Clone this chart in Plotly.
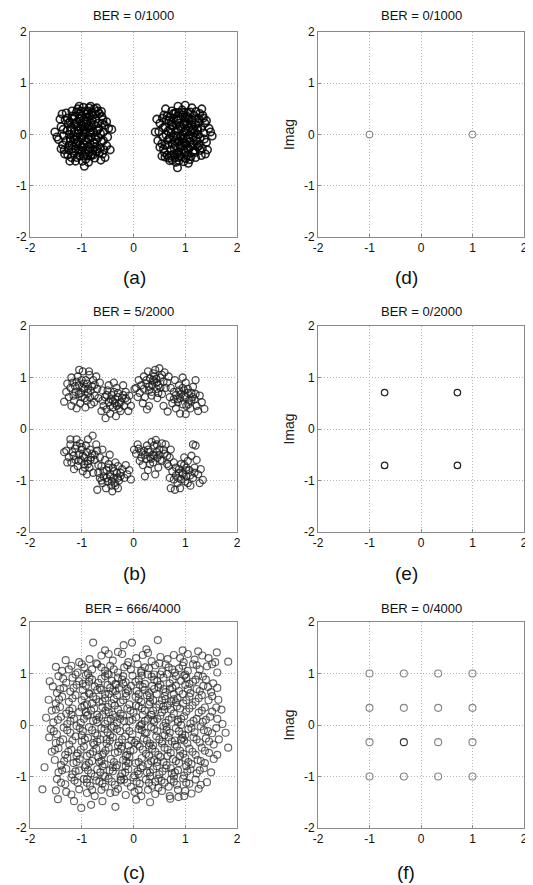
import plotly.graph_objects as go
from plotly.subplots import make_subplots

# ---------------- data ----------------
titles = ["BER = 0/1000", "BER = 0/1000", "BER = 5/2000", "BER = 0/2000", "BER = 666/4000", "BER = 0/4000"]
letters = ["(a)", "(d)", "(b)", "(e)", "(c)", "(f)"]
tick_vals = [-2, -1, 0, 1, 2]
tick_text = ["-2", "-1", "0", "1", "2"]

# (a) BPSK received, two clusters
a_left = [(-0.95,0.02),(-1.02,0.11),(-0.88,-0.08),(-1.10,-0.05),(-0.81,0.14),(-0.97,-0.18),(-1.15,0.20),(-0.74,-0.02),
 (-1.05,0.31),(-0.90,0.27),(-1.22,-0.12),(-0.85,-0.25),(-1.00,-0.31),(-0.68,0.22),(-1.28,0.08),(-0.79,0.38),(-1.12,-0.28),
 (-0.62,-0.14),(-0.93,0.45),(-1.35,-0.02),(-0.71,-0.33),(-1.18,0.36),(-1.04,-0.42),(-0.58,0.05),(-1.40,0.15),(-0.86,0.52),
 (-0.66,0.41),(-1.25,-0.30),(-0.92,-0.48),(-0.52,-0.22),(-1.45,-0.10),(-1.30,0.42),(-0.75,-0.46),(-1.08,0.50),(-0.48,0.12),
 (-1.52,0.05),(-0.60,-0.38),(-1.20,-0.45),(-0.95,-0.62),(-0.42,0.10),(-0.55,-0.45),(-0.83,0.03),(-1.06,-0.14),(-0.99,0.17),
 (-0.77,-0.15),(-1.14,0.06),(-0.89,0.34),(-1.01,-0.24),(-0.70,0.08),(-1.19,-0.20),(-0.94,-0.37),(-0.82,0.23),(-1.09,0.24),
 (-0.64,-0.26),(-1.32,0.28),(-0.87,-0.54),(-1.24,0.00),(-0.73,0.30),(-1.03,0.40),(-0.59,0.29),(-1.37,-0.20),(-0.80,-0.38),
 (-1.16,-0.36),(-0.50,-0.05),(-0.97,0.53),(-1.42,0.30),(-0.63,-0.50),(-1.27,-0.40),(-0.45,-0.30),(-1.10,0.44),(-0.92,-0.11),
 (-0.84,-0.19),(-1.07,0.02),(-0.96,0.09),(-0.78,0.07),(-1.21,0.14),(-0.68,-0.06),(-1.13,-0.10),(-0.86,0.16),(-0.99,-0.05),
 (-1.05,-0.35),(-0.74,-0.24),(-0.91,0.20),(-1.26,0.22),(-0.56,0.18),(-0.88,-0.30),(-1.17,0.30),(-0.69,0.46),(-1.34,-0.30),
 (-0.61,0.35),(-1.00,0.36),(-0.57,-0.30),(-1.48,-0.05),(-0.76,0.50),(-1.12,-0.52),(-0.83,-0.42),(-1.38,0.40),(-0.52,0.25),
 (-0.99,-0.52),(-1.23,-0.52)]
a_left_core = [(-0.93,0.05),(-1.00,-0.08),(-0.87,0.12),(-1.08,0.15),(-0.82,-0.06),(-1.04,0.26),(-0.90,-0.15),(-1.16,-0.02),
 (-0.76,0.19),(-0.96,0.30),(-1.11,-0.18),(-0.85,0.36),(-0.72,-0.10),(-1.20,0.08),(-0.98,-0.26),(-0.80,0.29),(-1.03,-0.20),
 (-0.91,0.40),(-1.23,0.25),(-0.67,0.12),(-1.14,0.35),(-0.86,-0.35),(-0.70,-0.28),(-1.30,-0.12),(-0.94,0.15),(-1.06,0.08),
 (-0.79,-0.30),(-1.18,-0.28),(-0.64,0.02),(-1.02,0.46),(-0.88,0.46),(-1.28,0.32),(-0.60,0.22),(-0.97,-0.42),(-1.09,-0.45),
 (-0.73,0.40),(-1.36,0.10),(-0.66,-0.35),(-1.25,-0.22),(-0.84,0.05),(-0.99,-0.02),(-1.12,0.22),(-0.75,-0.18),(-0.90,0.24),
 (-1.07,-0.30),(-0.81,0.44),(-1.33,-0.38),(-0.58,-0.12),(-1.40,-0.28),(-1.19,0.46),(-0.71,0.52),(-1.15,-0.10),(-0.95,-0.20),
 (-1.01,0.20),(-0.78,-0.40),(-0.62,0.45),(-1.22,-0.08),(-0.89,-0.42),(-1.05,0.55),(-0.83,0.55)]
a_right = [(0.95,0.00),(1.03,-0.09),(0.86,0.10),(1.12,0.07),(0.80,-0.12),(0.98,0.19),(1.17,-0.18),(0.73,0.03),(1.06,-0.30),
 (0.90,-0.26),(1.24,0.12),(0.84,0.27),(1.00,0.32),(0.66,-0.20),(1.29,-0.06),(0.78,-0.38),(1.13,0.28),(0.61,0.15),(0.93,-0.44),
 (1.36,0.03),(0.70,0.34),(1.19,-0.35),(1.05,0.43),(0.57,-0.05),(1.41,-0.15),(0.88,-0.51),(0.65,-0.40),(1.26,0.31),(0.94,0.48),
 (0.51,0.22),(1.46,0.12),(1.31,-0.41),(0.74,0.46),(1.09,-0.49),(0.47,-0.12),(1.52,-0.03),(0.59,0.38),(1.21,0.45),(0.85,-0.65),
 (0.42,0.05),(0.55,-0.42),(0.82,-0.02),(1.07,0.13),(0.99,-0.16),(0.76,0.16),(1.15,-0.05),(0.88,-0.34),(1.02,0.24),(0.69,-0.08),
 (1.20,0.20),(0.95,0.38),(0.81,-0.22),(1.10,-0.24),(0.63,0.28),(1.33,-0.27),(0.86,0.55),(1.25,0.00),(0.72,-0.30),(1.04,-0.40),
 (0.58,-0.28),(1.38,0.22),(0.79,0.40),(1.17,0.37),(0.49,0.06),(0.97,-0.53),(1.43,-0.30),(0.62,0.50),(1.28,0.41),(0.45,0.30),
 (1.11,-0.43),(0.92,0.11),(0.83,0.19),(1.08,-0.01),(0.96,-0.08),(0.77,-0.06),(1.22,-0.13),(0.67,0.07),(1.14,0.10),(0.85,-0.15),
 (0.99,0.05),(1.04,0.35),(0.73,0.24),(0.91,-0.20),(1.27,-0.22),(0.55,-0.18),(0.87,0.30),(1.18,-0.31),(0.68,-0.46),(1.35,0.32),
 (0.60,-0.35),(1.00,-0.36),(0.56,0.32),(1.49,0.05),(0.75,-0.50),(1.13,0.52),(0.82,0.43),(1.39,-0.38),(0.51,-0.25),(1.00,0.57),
 (1.32,0.50)]
a_right_core = [(0.92,-0.04),(1.01,0.09),(0.88,-0.13),(1.09,-0.14),(0.83,0.07),(1.05,-0.27),(0.89,0.16),(1.17,0.03),
 (0.75,-0.18),(0.97,-0.31),(1.12,0.19),(0.84,-0.37),(0.71,0.11),(1.21,-0.07),(0.99,0.27),(0.79,-0.28),(1.04,0.21),
 (0.90,-0.41),(1.24,-0.24),(0.66,-0.11),(1.15,-0.34),(0.87,0.36),(0.69,0.27),(1.31,0.13),(0.95,-0.16),(1.07,-0.07),
 (0.78,0.31),(1.19,0.29),(0.63,-0.01),(1.01,-0.47),(0.87,-0.45),(1.29,-0.31),(0.61,-0.21),(0.98,0.43),(1.10,0.44),
 (0.72,-0.41),(1.37,-0.09),(0.65,0.36),(1.26,0.23),(0.85,-0.04),(1.00,0.03),(1.13,-0.21),(0.74,0.19),(0.91,-0.23),
 (1.08,0.31),(0.80,-0.45),(1.34,0.37),(0.57,0.13),(1.41,0.27),(1.20,-0.45),(0.70,-0.51),(1.16,0.11),(0.96,0.21),
 (1.02,-0.19),(0.77,0.41),(0.61,-0.44),(1.23,0.09),(0.88,0.43),(1.06,-0.56),(0.82,-0.54)]

# (b) QPSK received, four wavy clusters
b_tl = [(-0.95,0.78),(-1.05,0.85),(-0.88,0.70),(-1.12,0.72),(-0.80,0.83),(-1.00,0.62),(-1.18,0.90),(-0.92,0.95),(-0.75,0.65),
 (-1.08,1.02),(-0.85,1.05),(-1.22,0.80),(-1.25,0.62),(-0.70,0.78),(-1.03,0.50),(-0.90,0.55),(-1.15,0.55),(-0.78,0.95),
 (-1.30,0.72),(-0.98,1.12),(-1.05,1.15),(-0.86,1.12),(-1.20,1.00),(-1.34,0.53),(-1.10,0.40),(-0.82,0.48),(-0.65,0.90),
 (-0.72,1.02),(-1.28,0.88),(-0.96,0.88),(-1.02,0.70),(-0.84,0.62),(-1.13,0.83),(-0.68,0.60),(-0.93,0.42),(-1.20,0.45),
 (-0.60,0.75),(-0.76,0.52),
 (-0.35,0.58),(-0.42,0.66),(-0.28,0.50),(-0.48,0.52),(-0.30,0.70),(-0.22,0.60),(-0.40,0.42),(-0.55,0.62),(-0.18,0.45),
 (-0.33,0.80),(-0.50,0.75),(-0.25,0.35),(-0.45,0.30),(-0.12,0.55),(-0.38,0.90),(-0.58,0.45),(-0.15,0.72),(-0.54,0.21),
 (-0.34,0.25),(-0.05,0.45),(-0.08,0.65),(-0.62,0.35),(-0.20,0.85),(-0.48,0.85),(-0.28,0.40),(-0.36,0.50),(-0.52,0.38),
 (-0.10,0.35),(-0.44,0.58),
 (-0.98,0.80),(-1.06,0.68),(-0.90,0.88),(-0.83,0.74),(-1.16,0.65),(-0.94,0.60),(-1.10,0.92),(-0.75,0.86),(-1.00,0.95),
 (-0.88,0.78),(-0.40,0.55),(-0.30,0.62),(-0.45,0.45),(-0.25,0.52),(-0.38,0.72),(-0.52,0.66),(-0.20,0.66),(-0.32,0.45),
 (-0.60,0.55),(-0.15,0.60)]
b_tr = [(0.40,0.92),(0.32,0.98),(0.48,0.85),(0.25,0.88),(0.52,1.00),(0.38,1.08),(0.45,0.78),(0.30,0.75),(0.20,1.02),
 (0.58,0.92),(0.15,0.85),(0.42,1.15),(0.50,1.18),(0.28,1.12),(0.62,0.80),(0.10,0.95),(0.35,0.65),(0.22,0.62),(0.05,0.80),
 (0.68,1.02),(0.55,0.68),(0.18,0.50),(0.30,0.45),(0.12,0.70),(0.60,1.10),(0.02,0.78),(0.26,0.38),(0.44,0.98),(0.36,0.85),
 (0.65,0.90),(0.08,0.62),(0.46,0.60),
 (1.00,0.62),(0.92,0.68),(1.08,0.55),(0.85,0.58),(1.12,0.70),(0.95,0.48),(1.05,0.78),(0.78,0.72),(1.18,0.58),(0.88,0.85),
 (1.22,0.45),(0.75,0.50),(1.01,0.90),(1.15,0.82),(0.70,0.62),(1.28,0.65),(0.82,0.40),(1.10,0.40),(0.95,1.00),(1.25,0.35),
 (1.37,0.39),(0.66,0.34),(1.01,0.29),(0.90,0.30),(1.32,0.52),(0.72,0.80),(1.20,0.95),(0.80,0.95),(0.98,0.75),(1.06,0.48),
 (0.86,0.52),(0.58,0.45),(1.14,0.62),
 (0.38,0.95),(0.45,0.90),(0.30,0.82),(0.52,0.80),(0.25,0.95),(0.40,1.02),(0.55,1.05),(0.20,0.78),(0.35,0.72),(0.48,0.70),
 (0.98,0.65),(1.05,0.70),(0.90,0.60),(1.12,0.55),(0.95,0.80),(0.82,0.66),(1.20,0.68),(1.02,0.45),(0.88,0.75),(0.78,0.58)]
b_bl = [(-0.95,-0.55),(-1.05,-0.50),(-0.88,-0.62),(-1.12,-0.60),(-0.80,-0.48),(-1.00,-0.40),(-1.18,-0.45),(-0.92,-0.32),
 (-0.75,-0.60),(-1.08,-0.72),(-0.85,-0.75),(-1.22,-0.30),(-1.25,-0.55),(-0.70,-0.42),(-1.03,-0.28),(-0.79,-0.13),
 (-0.88,-0.20),(-1.15,-0.78),(-1.30,-0.42),(-0.98,-0.82),(-1.34,-0.45),(-0.65,-0.55),(-0.72,-0.30),(-1.20,-0.65),
 (-0.95,-0.68),(-1.02,-0.60),(-0.84,-0.40),(-1.13,-0.38),(-0.68,-0.70),(-1.10,-0.20),(-0.90,-0.88),(-1.28,-0.65),
 (-0.60,-0.40),(-0.78,-0.85),(-1.22,-0.20),(-0.82,-0.55),
 (-0.45,-0.88),(-0.52,-0.80),(-0.38,-0.95),(-0.58,-0.92),(-0.40,-0.75),(-0.32,-0.85),(-0.50,-1.02),(-0.62,-0.72),
 (-0.28,-1.00),(-0.43,-1.10),(-0.60,-1.05),(-0.35,-0.65),(-0.55,-0.60),(-0.22,-0.78),(-0.41,-1.21),(-0.70,-1.18),
 (-0.25,-0.92),(-0.68,-0.85),(-0.18,-0.95),(-0.30,-1.15),(-0.12,-0.88),(-0.05,-0.98),(-0.15,-0.70),(-0.48,-0.68),
 (-0.65,-0.95),(-0.36,-1.05),(-0.46,-0.50),(-0.08,-0.80),(-0.53,-1.15),(-0.30,-0.72),
 (-0.98,-0.52),(-1.06,-0.62),(-0.90,-0.45),(-0.83,-0.60),(-1.16,-0.52),(-0.94,-0.75),(-1.10,-0.32),(-0.75,-0.50),
 (-1.00,-0.35),(-0.88,-0.68),(-0.45,-0.92),(-0.38,-0.82),(-0.52,-0.95),(-0.30,-0.95),(-0.42,-1.02),(-0.58,-0.82),
 (-0.25,-0.85),(-0.48,-0.75),(-0.62,-1.00),(-0.35,-1.10)]
b_br = [(0.38,-0.50),(0.30,-0.45),(0.46,-0.56),(0.25,-0.58),(0.50,-0.40),(0.40,-0.32),(0.20,-0.42),(0.55,-0.62),(0.32,-0.68),
 (0.15,-0.55),(0.60,-0.48),(0.43,-0.21),(0.35,-0.25),(0.10,-0.38),(0.62,-0.30),(0.48,-0.75),(0.28,-0.80),(0.05,-0.48),
 (0.70,-0.55),(0.18,-0.70),(0.55,-0.28),(0.01,-0.40),(0.12,-0.62),(0.42,-0.88),(0.65,-0.68),(0.26,-0.32),(0.08,-0.30),
 (0.72,-0.40),(0.34,-0.58),(0.50,-0.50),(0.22,-0.92),
 (0.95,-0.85),(0.88,-0.78),(1.02,-0.92),(0.82,-0.90),(1.08,-0.80),(0.92,-0.68),(1.00,-1.02),(0.75,-0.82),(1.15,-0.95),
 (0.85,-1.05),(1.18,-0.75),(0.78,-0.65),(1.05,-0.62),(0.90,-1.15),(1.25,-0.88),(0.70,-0.95),(1.10,-1.10),(0.68,-0.72),
 (1.30,-0.78),(1.34,-0.99),(0.80,-1.18),(0.72,-1.15),(1.22,-0.60),(0.98,-0.55),(1.28,-1.05),(0.65,-0.52),(1.12,-0.52),
 (0.86,-0.95),(1.02,-0.75),(1.20,-0.32),(1.15,-0.30),
 (0.40,-0.52),(0.32,-0.55),(0.45,-0.45),(0.28,-0.40),(0.52,-0.60),(0.38,-0.65),(0.22,-0.50),(0.58,-0.40),(0.45,-0.30),
 (0.15,-0.45),(0.95,-0.88),(0.88,-0.85),(1.02,-0.80),(0.92,-0.98),(1.10,-0.90),(0.82,-0.75),(1.05,-1.05),(0.78,-0.98),
 (1.18,-0.85),(0.98,-0.70)]

# (c) 16-QAM received, heavy noise
c_pts = [
 (-0.78,1.60),(-0.03,1.60),(-0.19,1.55),(0.47,1.65),(-0.55,1.45),(0.25,1.47),(1.61,1.41),(0.95,1.45),(-0.30,1.42),(1.25,1.43),
 (-1.31,1.26),(-1.05,1.22),(-0.85,1.28),(-0.62,1.35),(-0.40,1.25),(-0.22,1.38),(-0.10,1.22),(0.05,1.30),(0.18,1.36),(0.35,1.24),
 (0.52,1.32),(0.66,1.28),(0.78,1.36),(0.90,1.30),(1.05,1.38),(1.18,1.27),(1.33,1.35),(1.45,1.30),(1.83,1.23),(1.58,1.22),
 (-0.72,1.20),(0.28,1.40),(0.97,1.22),(-0.48,1.38),
 (-1.50,1.13),(-1.38,1.05),(-1.20,1.15),(-1.08,1.02),(-0.95,1.12),(-0.80,1.08),(-0.70,1.18),(-0.55,1.05),(-0.45,1.15),
 (-0.30,1.02),(-0.18,1.12),(-0.05,1.08),(0.08,1.18),(0.15,1.02),(0.30,1.10),(0.42,1.16),(0.55,1.04),(0.68,1.12),(0.80,1.02),
 (0.95,1.15),(1.05,1.05),(1.15,1.18),(1.28,1.08),(1.42,1.14),(1.62,1.02),(-0.88,1.00),(0.50,1.20),(1.00,0.98),
 (-1.62,0.85),(-1.45,0.95),(-1.30,0.82),(-1.18,0.92),(-1.05,0.85),(-0.92,0.97),(-0.80,0.88),(-0.68,0.82),(-0.55,0.95),
 (-0.42,0.86),(-0.30,0.92),(-0.15,0.83),(-0.02,0.96),(0.10,0.88),(0.22,0.80),(0.35,0.94),(0.46,0.85),(0.58,0.92),(0.70,0.81),
 (0.82,0.95),(0.92,0.86),(1.02,0.92),(1.15,0.84),(1.25,0.96),(1.40,0.88),(1.54,0.81),(-0.35,0.80),(0.65,0.99),(-0.98,0.80),
 (1.08,0.80),(0.28,0.98),
 (-1.56,0.75),(-1.48,0.62),(-1.35,0.72),(-1.22,0.65),(-1.10,0.78),(-0.98,0.68),(-0.86,0.62),(-0.75,0.75),(-0.62,0.68),
 (-0.50,0.78),(-0.40,0.65),(-0.28,0.72),(-0.15,0.62),(-0.05,0.76),(0.06,0.66),(0.18,0.74),(0.30,0.62),(0.40,0.70),(0.52,0.78),
 (0.62,0.64),(0.75,0.72),(0.88,0.66),(1.00,0.78),(1.10,0.62),(1.22,0.70),(1.35,0.76),(1.50,0.64),(-0.55,0.60),(0.45,0.60),
 (-0.20,0.80),(0.95,0.60),(1.62,0.72),
 (-1.64,0.49),(-1.50,0.42),(-1.38,0.55),(-1.25,0.45),(-1.12,0.58),(-1.00,0.48),(-0.90,0.40),(-0.78,0.55),(-0.66,0.45),
 (-0.55,0.52),(-0.42,0.42),(-0.32,0.58),(-0.20,0.48),(-0.08,0.40),(0.04,0.55),(0.15,0.45),(0.26,0.58),(0.38,0.48),(0.50,0.40),
 (0.60,0.56),(0.72,0.46),(0.85,0.52),(0.96,0.42),(1.08,0.55),(1.20,0.45),(1.32,0.58),(1.45,0.48),(1.64,0.49),(-0.85,0.60),
 (0.30,0.40),(-0.48,0.60),(0.78,0.60),
 (-1.58,0.28),(-1.42,0.35),(-1.30,0.22),(-1.18,0.32),(-1.05,0.25),(-0.95,0.38),(-0.82,0.28),(-0.70,0.20),(-0.60,0.35),
 (-0.48,0.25),(-0.36,0.38),(-0.25,0.22),(-0.12,0.32),(0.00,0.24),(0.10,0.36),(0.22,0.28),(0.34,0.20),(0.44,0.34),(0.55,0.25),
 (0.66,0.38),(0.78,0.22),(0.90,0.32),(1.02,0.26),(1.14,0.38),(1.26,0.24),(1.38,0.34),(1.52,0.26),(1.70,0.30),(-0.88,0.20),
 (0.18,0.20),(-0.40,0.20),(0.72,0.30),
 (-1.69,0.14),(-1.55,0.05),(-1.40,0.16),(-1.28,0.02),(-1.15,0.12),(-1.02,0.04),(-0.90,0.18),(-0.78,0.08),(-0.66,0.15),
 (-0.55,0.02),(-0.44,0.12),(-0.32,0.05),(-0.20,0.18),(-0.08,0.08),(0.05,0.15),(0.16,0.02),(0.28,0.12),(0.40,0.06),(0.52,0.18),
 (0.62,0.04),(0.74,0.14),(0.86,0.06),(0.98,0.17),(1.10,0.03),(1.22,0.12),(1.34,0.06),(1.48,0.16),(1.72,0.02),(-0.60,0.20),
 (0.35,0.20),(-1.20,0.20),(0.92,0.00),
 (-1.60,-0.08),(-1.48,-0.18),(-1.35,-0.05),(-1.22,-0.15),(-1.10,-0.02),(-0.98,-0.12),(-0.86,-0.04),(-0.74,-0.16),(-0.62,-0.06),
 (-0.50,-0.14),(-0.38,-0.02),(-0.26,-0.12),(-0.14,-0.05),(-0.02,-0.18),(0.10,-0.08),(0.22,-0.16),(0.34,-0.04),(0.46,-0.12),
 (0.58,-0.02),(0.70,-0.15),(0.82,-0.06),(0.94,-0.18),(1.06,-0.08),(1.18,-0.14),(1.30,-0.03),(1.44,-0.12),(1.60,-0.06),
 (1.78,-0.15),(-0.45,-0.20),(0.60,-0.20),(-1.00,-0.20),(0.15,0.00),
 (-1.63,-0.24),(-1.50,-0.35),(-1.36,-0.28),(-1.24,-0.38),(-1.12,-0.22),(-1.00,-0.32),(-0.88,-0.25),(-0.76,-0.38),(-0.64,-0.28),
 (-0.52,-0.36),(-0.40,-0.24),(-0.28,-0.34),(-0.16,-0.22),(-0.04,-0.30),(0.08,-0.38),(0.20,-0.26),(0.32,-0.36),(0.44,-0.22),
 (0.56,-0.32),(0.68,-0.24),(0.80,-0.38),(0.92,-0.28),(1.04,-0.36),(1.16,-0.24),(1.28,-0.34),(1.40,-0.26),(1.55,-0.38),
 (1.65,-0.28),(-0.70,-0.20),(0.38,-0.40),(-0.10,-0.40),(1.00,-0.20),
 (-1.58,-0.52),(-1.45,-0.45),(-1.32,-0.58),(-1.20,-0.48),(-1.08,-0.55),(-0.96,-0.42),(-0.84,-0.56),(-0.72,-0.46),(-0.60,-0.58),
 (-0.48,-0.44),(-0.36,-0.54),(-0.24,-0.46),(-0.12,-0.58),(0.00,-0.48),(0.12,-0.42),(0.24,-0.56),(0.36,-0.46),(0.48,-0.58),
 (0.60,-0.44),(0.72,-0.54),(0.84,-0.42),(0.96,-0.56),(1.08,-0.46),(1.20,-0.58),(1.32,-0.44),(1.46,-0.54),(1.83,-0.44),
 (1.62,-0.58),(-0.90,-0.60),(0.30,-0.60),(-0.30,-0.40),(0.66,-0.60),
 (-1.52,-0.68),(-1.40,-0.78),(-1.28,-0.64),(-1.16,-0.74),(-1.04,-0.66),(-0.92,-0.78),(-0.80,-0.70),(-0.68,-0.62),(-0.56,-0.76),
 (-0.44,-0.66),(-0.32,-0.78),(-0.20,-0.68),(-0.08,-0.62),(0.04,-0.74),(0.16,-0.64),(0.28,-0.76),(0.40,-0.68),(0.52,-0.62),
 (0.64,-0.78),(0.76,-0.66),(0.88,-0.74),(1.00,-0.64),(1.12,-0.76),(1.24,-0.68),(1.38,-0.74),(1.55,-0.66),(-0.60,-0.80),
 (0.45,-0.80),(-1.10,-0.60),(0.90,-0.60),(-0.15,-0.80),
 (-1.72,-0.82),(-1.45,-0.92),(-1.30,-0.85),(-1.18,-0.96),(-1.05,-0.88),(-0.94,-0.82),(-0.82,-0.94),(-0.70,-0.86),(-0.58,-0.98),
 (-0.46,-0.88),(-0.34,-0.82),(-0.22,-0.94),(-0.10,-0.86),(0.02,-0.98),(0.14,-0.84),(0.26,-0.92),(0.38,-0.86),(0.50,-0.96),
 (0.62,-0.84),(0.74,-0.94),(0.86,-0.88),(0.98,-0.98),(1.10,-0.86),(1.22,-0.94),(1.36,-0.84),(1.50,-0.92),(-0.75,-1.00),
 (0.32,-1.00),(1.02,-0.80),(-0.25,-1.00),
 (-1.48,-1.05),(-1.32,-1.15),(-1.20,-1.02),(-1.08,-1.12),(-0.96,-1.05),(-0.84,-1.18),(-0.72,-1.08),(-0.60,-1.14),(-0.48,-1.04),
 (-0.36,-1.16),(-0.24,-1.06),(-0.12,-1.12),(0.00,-1.02),(0.12,-1.14),(0.24,-1.06),(0.36,-1.18),(0.48,-1.04),(0.60,-1.12),
 (0.72,-1.06),(0.84,-1.16),(0.96,-1.04),(1.08,-1.14),(1.20,-1.06),(1.42,-1.11),(-0.55,-1.20),(0.68,-1.20),(-0.05,-1.20),
 (-1.76,-1.25),(-1.50,-1.27),(-1.20,-1.35),(-1.05,-1.25),(-0.90,-1.32),(-0.75,-1.38),(-0.62,-1.26),(-0.45,-1.32),(-0.30,-1.24),
 (-0.15,-1.36),(0.02,-1.30),(0.15,-1.38),(0.28,-1.26),(0.42,-1.34),(0.55,-1.28),(0.86,-1.26),(1.12,-1.33),(1.26,-1.24),
 (0.98,-1.38),(0.70,-1.38),
 (-1.46,-1.44),(-1.01,-1.61),(-0.35,-1.59),(0.71,-1.43),(0.87,-1.40),(-1.15,-1.48),(-0.60,-1.48),(0.05,-1.45),(0.32,-1.50),
 (-0.82,-1.55)]
c_core = [(-0.65,0.72),(-0.35,0.66),(-0.12,0.70),(0.22,0.68),(0.48,0.74),(0.70,0.70),(-0.80,0.42),(-0.50,0.35),(-0.25,0.44),
 (0.05,0.38),(0.32,0.45),(0.58,0.36),(0.82,0.44),(-0.70,0.05),(-0.42,-0.05),(-0.18,0.08),(0.12,-0.02),(0.38,0.10),(0.64,-0.04),
 (0.85,0.10),(-0.78,-0.35),(-0.52,-0.28),(-0.22,-0.42),(0.05,-0.30),(0.30,-0.40),(0.55,-0.36),(0.80,-0.30),(-0.66,-0.72),
 (-0.40,-0.82),(-0.10,-0.74),(0.18,-0.80),(0.46,-0.72),(0.72,-0.84),(-0.85,0.92),(-0.50,1.00),(-0.20,0.95),(0.15,1.05),
 (0.40,0.98),(0.75,1.08),(-0.90,-1.05),(-0.55,-1.00),(-0.25,-1.08),(0.10,-0.95),(0.42,-1.10),(0.78,-1.00),(-0.35,0.15),
 (0.25,-0.15),(-0.58,-0.55),(0.62,0.50),(-0.15,-0.60),(0.10,0.60),(-0.92,0.25),(0.95,-0.25)]
c_more = [(-1.25,1.08),(-1.00,1.18),(-0.62,1.12),(-0.38,1.08),(-0.12,1.16),(0.22,1.12),(0.62,1.18),(0.88,1.10),(1.22,1.16),
 (1.52,1.18),(-1.36,0.90),(-1.12,0.98),(-0.86,0.84),(-0.62,0.90),(-0.48,0.98),(-0.22,0.88),(0.04,0.84),(0.16,0.96),(0.40,0.88),
 (0.52,0.98),(0.76,0.88),(0.98,0.96),(1.20,0.88),(1.34,0.94),(-1.42,0.70),(-1.16,0.72),(-0.92,0.76),(-0.70,0.68),(-0.45,0.72),
 (-0.34,0.78),(-0.10,0.66),(0.12,0.78),(0.36,0.76),(0.58,0.70),(0.82,0.76),(1.05,0.70),(1.28,0.66),(1.44,0.74),(-1.44,0.50),
 (-1.18,0.52),(-0.95,0.56),(-0.72,0.50),(-0.60,0.46),(-0.38,0.50),(-0.14,0.56),(0.10,0.50),(0.32,0.54),(0.55,0.48),(0.78,0.50),
 (1.02,0.48),(1.26,0.52),(1.52,0.56),(-1.50,0.30),(-1.24,0.28),(-1.00,0.34),(-0.76,0.32),(-0.54,0.28),(-0.30,0.30),(-0.06,0.28),
 (0.16,0.32),(0.38,0.28),(0.60,0.30),(0.84,0.36),(1.08,0.32),(1.32,0.28),(1.60,0.34),(-1.46,0.10),(-1.22,0.08),(-0.96,0.12),
 (-0.72,0.10),(-0.50,0.08),(-0.26,0.12),(-0.02,0.10),(0.22,0.08),(0.46,0.12),(0.68,0.10),(0.92,0.12),(1.16,0.08),(1.40,0.10),
 (1.62,0.12),(-1.54,-0.12),(-1.28,-0.10),(-1.04,-0.06),(-0.80,-0.10),(-0.56,-0.08),(-0.32,-0.08),(-0.08,-0.12),(0.16,-0.10),
 (0.40,-0.08),(0.64,-0.10),(0.88,-0.12),(1.12,-0.06),(1.36,-0.10),(1.52,-0.16),(-1.42,-0.32),(-1.18,-0.30),(-0.94,-0.28),
 (-0.70,-0.32),(-0.46,-0.30),(-0.22,-0.28),(0.02,-0.34),(0.26,-0.30),(0.50,-0.28),(0.74,-0.32),(0.98,-0.30),(1.22,-0.28),
 (1.46,-0.32),(-1.52,-0.48),(-1.26,-0.52),(-1.02,-0.48),(-0.78,-0.52),(-0.54,-0.50),(-0.30,-0.52),(-0.06,-0.50),(0.18,-0.48),
 (0.42,-0.52),(0.66,-0.48),(0.90,-0.50),(1.14,-0.52),(1.38,-0.50),(-1.34,-0.70),(-1.10,-0.72),(-0.86,-0.74),(-0.62,-0.70),
 (-0.38,-0.72),(-0.14,-0.70),(0.10,-0.72),(0.34,-0.70),(0.58,-0.72),(0.82,-0.70),(1.06,-0.72),(1.30,-0.70),(-1.38,-0.88),
 (-1.12,-0.90),(-0.88,-0.88),(-0.64,-0.92),(-0.40,-0.90),(-0.16,-0.92),(0.08,-0.90),(0.32,-0.92),(0.56,-0.90),(0.80,-0.92),
 (1.04,-0.90),(1.28,-0.88),(-1.40,-1.12),(-1.14,-1.08),(-0.90,-1.12),(-0.66,-1.10),(-0.42,-1.10),(-0.18,-1.06),(0.06,-1.10),
 (0.30,-1.12),(0.54,-1.08),(0.78,-1.10),(1.02,-1.12),(1.30,-1.16),(-1.30,-1.30),(-0.80,-1.26),(-0.35,-1.30),(0.10,-1.26),
 (0.48,-1.22),(1.00,-1.28)]

# (d)-(f) ideal constellations
d_x = [-1.0, 1.0]
d_y = [0.0, 0.0]
e_x = [-0.707, 0.707, -0.707, 0.707]
e_y = [0.707, 0.707, -0.707, -0.707]
f_levels = [-1.0, -0.333, 0.333, 1.0]
f_x = [x for y in f_levels for x in f_levels]
f_y = [y for y in f_levels for x in f_levels]

# ---------------- figure ----------------
fig = make_subplots(rows=3, cols=2)


def add_pts(pts_list, row, col, color, size=7, width=1.1):
    xs = [p[0] for pts in pts_list for p in pts]
    ys = [p[1] for pts in pts_list for p in pts]
    fig.add_trace(go.Scatter(x=xs, y=ys, mode="markers",
                             marker=dict(symbol="circle-open", size=size, color=color, line=dict(width=width))),
                  row=row, col=col)


add_pts([a_left, a_left_core, a_right, a_right_core], 1, 1, "rgba(0,0,0,0.85)", 7.5, 1.6)
add_pts([b_tl, b_tr, b_bl, b_br], 2, 1, "rgba(30,30,30,0.78)", 7, 1.3)
add_pts([c_pts, c_core, c_more], 3, 1, "rgba(40,40,40,0.72)", 7, 1.15)

fig.add_trace(go.Scatter(x=d_x, y=d_y, mode="markers",
                         marker=dict(symbol="circle-open", size=7, color="#7a7a7a", line=dict(width=1))), row=1, col=2)
fig.add_trace(go.Scatter(x=e_x, y=e_y, mode="markers",
                         marker=dict(symbol="circle-open", size=6.5, color="#222222", line=dict(width=1.2))), row=2, col=2)
f_colors = ["#333333" if (x == -0.333 and y == -0.333) else "#858585" for x, y in zip(f_x, f_y)]
fig.add_trace(go.Scatter(x=f_x, y=f_y, mode="markers",
                         marker=dict(symbol="circle-open", size=7, color=f_colors, line=dict(width=1.1))), row=3, col=2)

# page has an 8px body margin: figure is sized/positioned to compensate
OFF = 8
W, H = 533 - OFF, 885 - OFF


def px(v):
    return (v - OFF) / W


def py(v):
    return 1 - (v - OFF) / H


xdom = {1: [px(30), px(237)], 2: [px(318), px(524)]}
ydom = {1: [py(237), py(32)], 2: [py(532), py(326)], 3: [py(828), py(622)]}

axis_style = dict(range=[-2.0005, 2.0005], tickvals=tick_vals, ticktext=tick_text, showgrid=True, gridcolor="#b5b5b5",
                  griddash="1px,2px", gridwidth=1, zeroline=False, showline=True, linecolor="#8a8a8a", linewidth=1,
                  mirror=True, ticks="inside", ticklen=3, tickcolor="#8a8a8a", automargin=False,
                  ticklabeloverflow="allow",
                  tickfont=dict(family="Liberation Sans, Arial", size=12, color="#111111"), fixedrange=True)

for r in (1, 2, 3):
    for c in (1, 2):
        fig.update_xaxes(domain=xdom[c], row=r, col=c, **axis_style)
        fig.update_yaxes(domain=ydom[r], row=r, col=c, **axis_style)
        if c == 2:
            fig.update_yaxes(title=dict(text="Imag", standoff=6,
                                        font=dict(family="Liberation Sans, Arial", size=14, color="#222222")),
                             row=r, col=c)

title_y = [15, 311, 608]
letter_y = [277, 573, 872]
title_x = {1: 133, 2: 421}
letter_x = {1: 134, 2: 406}
k = 0
for r in (1, 2, 3):
    for c in (1, 2):
        fig.add_annotation(text=titles[k], xref="paper", yref="paper", x=px(title_x[c]), y=py(title_y[r - 1]),
                           showarrow=False, xanchor="center", yanchor="middle",
                           font=dict(family="Liberation Sans, Arial", size=13, color="#111111"))
        fig.add_annotation(text=letters[k], xref="paper", yref="paper", x=px(letter_x[c]), y=py(letter_y[r - 1]),
                           showarrow=False, xanchor="center", yanchor="middle",
                           font=dict(family="Liberation Sans, Arial", size=19, color="#111111"))
        k += 1

fig.update_layout(width=W, height=H, margin=dict(l=0, r=0, t=0, b=0), showlegend=False,
                  paper_bgcolor="white", plot_bgcolor="white")

fig.write_html("out.html")
